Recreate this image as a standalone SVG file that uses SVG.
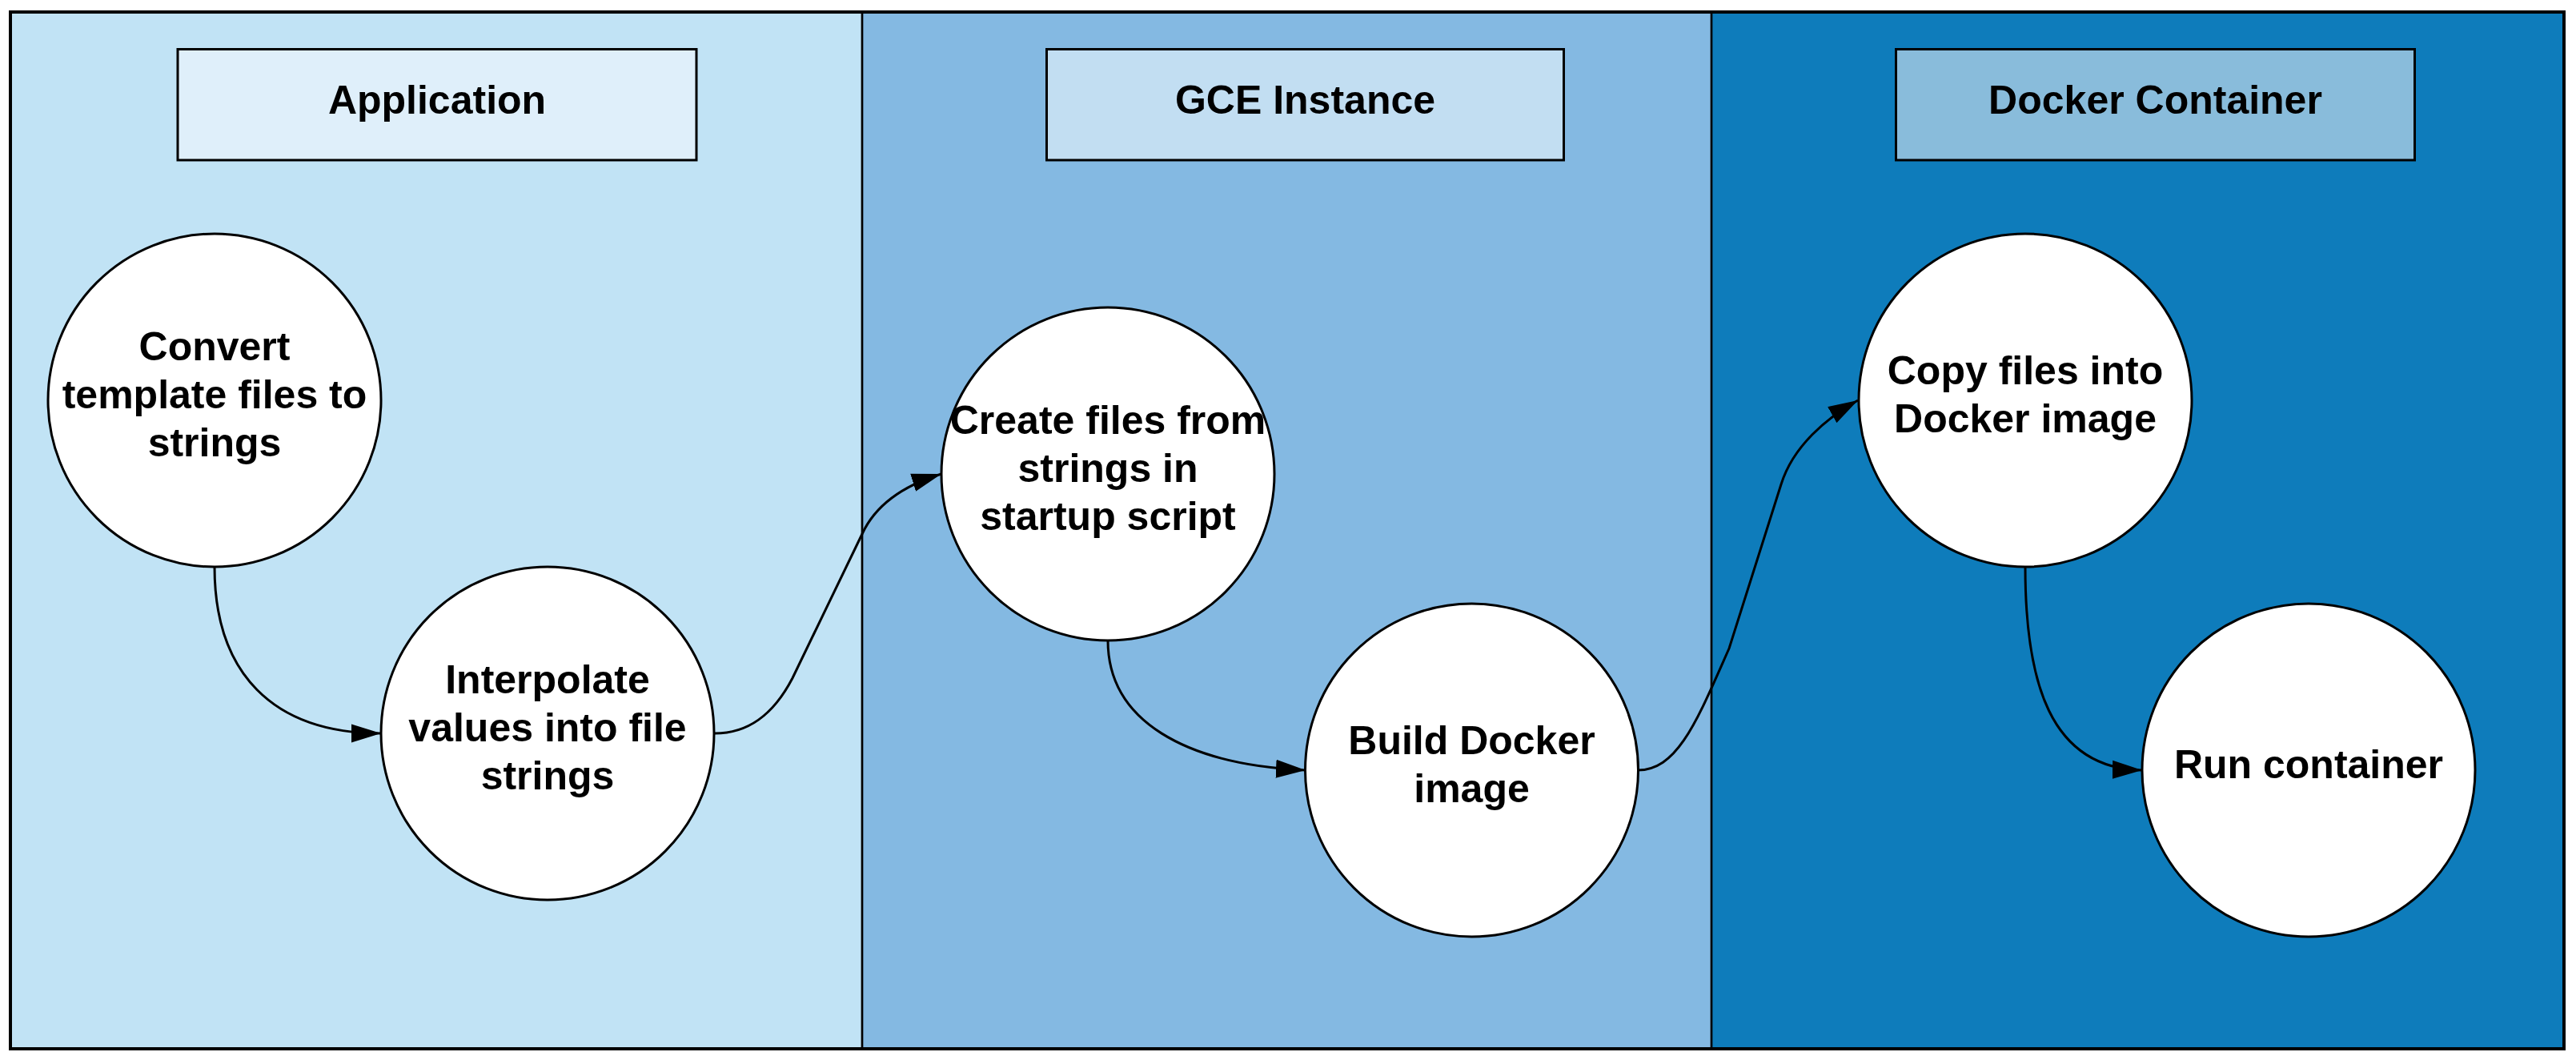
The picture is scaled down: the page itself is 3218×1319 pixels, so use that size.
<svg xmlns="http://www.w3.org/2000/svg" width="3218" height="1319" viewBox="0 0 3218 1319">
<style>
  .lane-line{stroke:#000;stroke-width:2.7;fill:none}
  .hdr{stroke:#000;stroke-width:3}
  .node{fill:#fff;stroke:#000;stroke-width:3}
  .txt{font-family:"Liberation Sans",Arial,sans-serif;font-weight:bold;font-size:50px;fill:#000;text-anchor:middle}
  .conn{fill:none;stroke:#000;stroke-width:3}
</style>
<defs>
  <marker id="arrow" markerUnits="userSpaceOnUse" markerWidth="38" markerHeight="24" viewBox="0 0 38 24" refX="37" refY="12" orient="auto">
    <path d="M0,0.5 L37,12 L0,23.5 z" fill="#000"/>
  </marker>
</defs>
<rect width="3218" height="1319" fill="#fff"/>
<g id="lane-application">
  <rect x="13" y="15" width="1064" height="1295" fill="#C1E3F5"/>
  <g id="header-application">
    <rect class="hdr" x="222" y="61.5" width="648" height="138.5" fill="#DFEFFA"/>
    <text class="txt" x="546" y="141.7">Application</text>
  </g>
</g>
<g id="lane-gce">
  <rect x="1077" y="15" width="1061" height="1295" fill="#84B9E2"/>
  <g id="header-gce">
    <rect class="hdr" x="1307.5" y="61.5" width="646" height="138.5" fill="#C2DEF2"/>
    <text class="txt" x="1630.5" y="141.7">GCE Instance</text>
  </g>
</g>
<g id="lane-docker">
  <rect x="2138" y="15" width="1065" height="1295" fill="#0E7CBB"/>
  <g id="header-docker">
    <rect class="hdr" x="2368.5" y="61.5" width="648" height="138.5" fill="#89BCDB"/>
    <text class="txt" x="2692.5" y="141.7">Docker Container</text>
  </g>
</g>
<line class="lane-line" x1="1077" y1="15" x2="1077" y2="1310"/>
<line class="lane-line" x1="2138" y1="15" x2="2138" y2="1310"/>
<rect x="13" y="15" width="3190" height="1295" fill="none" stroke="#000" stroke-width="4"/>

<g id="connectors">
  <path class="conn" marker-end="url(#arrow)" d="M268,708 C268,840 340,916 476,916"/>
  <path class="conn" marker-end="url(#arrow)" d="M893,916 C933,916 965,895 990,847 L1077,667 C1094,630 1130,606 1176,592"/>
  <path class="conn" marker-end="url(#arrow)" d="M1384,800 C1384,900 1480,955 1631,962"/>
  <path class="conn" marker-end="url(#arrow)" d="M2046,962 C2096,962 2120,900 2160,810 L2225,605 C2240,557 2282,522 2321,500"/>
  <path class="conn" marker-end="url(#arrow)" d="M2530,708 C2530,850 2560,960 2676,962"/>
</g>

<g id="node-convert">
  <circle class="node" cx="268" cy="500" r="208"/>
  <text class="txt" x="268"><tspan x="268" y="450">Convert</tspan><tspan x="268" y="510">template files to</tspan><tspan x="268" y="570">strings</tspan></text>
</g>
<g id="node-interpolate">
  <circle class="node" cx="684" cy="916" r="208"/>
  <text class="txt" x="684"><tspan x="684" y="866">Interpolate</tspan><tspan x="684" y="926">values into file</tspan><tspan x="684" y="986">strings</tspan></text>
</g>
<g id="node-create">
  <circle class="node" cx="1384" cy="592" r="208"/>
  <text class="txt" x="1384"><tspan x="1384" y="542">Create files from</tspan><tspan x="1384" y="602">strings in</tspan><tspan x="1384" y="662">startup script</tspan></text>
</g>
<g id="node-build">
  <circle class="node" cx="1838.5" cy="962" r="208"/>
  <text class="txt" x="1838.5"><tspan x="1838.5" y="942">Build Docker</tspan><tspan x="1838.5" y="1002">image</tspan></text>
</g>
<g id="node-copy">
  <circle class="node" cx="2530" cy="500" r="208"/>
  <text class="txt" x="2530"><tspan x="2530" y="480">Copy files into</tspan><tspan x="2530" y="540">Docker image</tspan></text>
</g>
<g id="node-run">
  <circle class="node" cx="2884" cy="962" r="208"/>
  <text class="txt" x="2884" y="972">Run container</text>
</g>
</svg>
